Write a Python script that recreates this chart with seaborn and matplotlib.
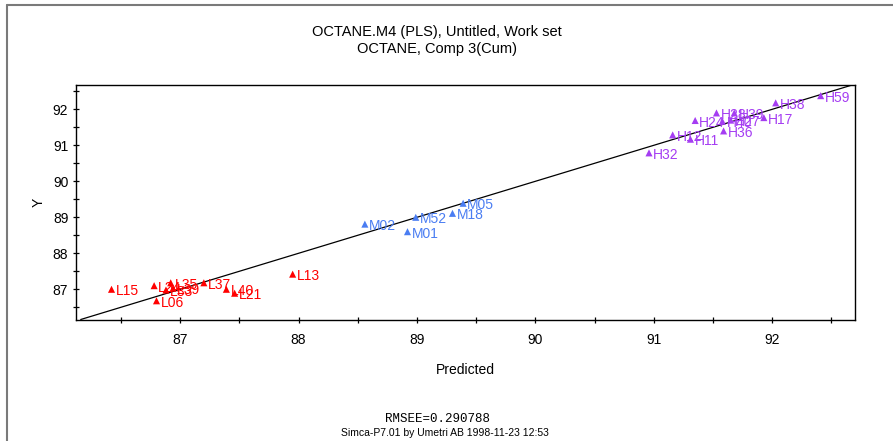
import matplotlib
matplotlib.use("Agg")
import matplotlib.pyplot as plt
from matplotlib.lines import Line2D
from matplotlib.ticker import MultipleLocator
import numpy as np
import pandas as pd
import seaborn as sns

# Observations: name, predicted Y, observed Y
names = ["L15", "L24", "L35", "L33", "L39", "L37", "L40", "L21", "L13", "L06",
         "M02", "M52", "M01", "M18", "M05",
         "H32", "H12", "H11", "H24", "H28", "H40", "H27", "H39", "H17", "H36",
         "H38", "H59"]
predicted = [86.42, 86.78, 86.92, 86.88, 86.94, 87.20, 87.39, 87.46, 87.95, 86.80,
             88.56, 88.99, 88.92, 89.30, 89.39,
             90.96, 91.16, 91.31, 91.35, 91.53, 91.58, 91.65, 91.68, 91.93, 91.59,
             92.03, 92.41]
observed = [87.00, 87.10, 87.18, 86.98, 87.03, 87.18, 87.00, 86.89, 87.42, 86.68,
            88.81, 89.00, 88.60, 89.11, 89.39,
            90.79, 91.29, 91.17, 91.69, 91.90, 91.67, 91.70, 91.90, 91.77, 91.40,
            92.18, 92.38]
classes = ["L", "M", "H"]
class_colors = ["#FF0000", "#4A7DF2", "#A53DF2"]

df = pd.DataFrame({"name": names, "Predicted": predicted, "Y": observed})
df["cls"] = df["name"].str[0]

sns.set_theme(style="white")
plt.rcParams["font.family"] = ["Liberation Sans", "DejaVu Sans"]
plt.rcParams["text.color"] = "black"
plt.rcParams["axes.labelcolor"] = "black"

fig = plt.figure(figsize=(8.93, 4.41), dpi=100)
ax = fig.add_axes([76 / 893, 1 - 319.5 / 441, (855 - 76) / 893, (319.5 - 84.5) / 441])

sns.scatterplot(data=df, x="Predicted", y="Y", hue="cls", hue_order=classes,
                palette=class_colors, marker="^", s=26, linewidth=0,
                legend=False, ax=ax, zorder=3)

for _, r in df.iterrows():
    col = class_colors[classes.index(r["cls"])]
    ax.annotate(r["name"], (r["Predicted"], r["Y"]), xytext=(3, -1.5),
                textcoords="offset points", ha="left", va="center",
                fontsize=10, color=col, zorder=4)

ax.set_xlim(86.12, 92.70)
ax.set_ylim(86.16, 92.69)
ax.axline((87, 87), slope=1, color="black", lw=0.9, zorder=2)

ax.xaxis.set_major_locator(MultipleLocator(1))
ax.xaxis.set_minor_locator(MultipleLocator(0.5))
ax.yaxis.set_major_locator(MultipleLocator(1))
ax.yaxis.set_minor_locator(MultipleLocator(0.5))
ax.tick_params(which="both", direction="inout", length=5, width=0.9,
               colors="black", labelsize=10, bottom=True, left=True)
ax.tick_params(axis="x", pad=7.5)
ax.tick_params(axis="y", pad=3)
for s in ax.spines.values():
    s.set_color("black")
    s.set_linewidth(1.0)

ax.set_xlabel("Predicted", fontsize=10, labelpad=11)
ax.set_ylabel("Y", fontsize=10, labelpad=5)

fig.text(437 / 893, 1 - 32 / 441, "OCTANE.M4 (PLS), Untitled, Work set",
         ha="center", va="center", fontsize=10.5)
fig.text(437 / 893, 1 - 49 / 441, "OCTANE, Comp 3(Cum)",
         ha="center", va="center", fontsize=10.5)

fig.text(438 / 893, 1 - 419 / 441, "RMSEE=0.290788", ha="center", va="center",
         fontsize=9, family=["Liberation Mono", "DejaVu Sans Mono"])
fig.text(445 / 893, 1 - 433 / 441, "Simca-P7.01 by Umetri AB 1998-11-23 12:53",
         ha="center", va="center", fontsize=7.5)

# window frame
fig.add_artist(Line2D([7 / 893, 1], [1 - 5 / 441, 1 - 5 / 441],
                      transform=fig.transFigure, color="#7a7a7a", lw=1.5))
fig.add_artist(Line2D([7 / 893, 7 / 893], [0, 1 - 5 / 441],
                      transform=fig.transFigure, color="#7a7a7a", lw=1.5))

fig.savefig("out.png", dpi=100)
